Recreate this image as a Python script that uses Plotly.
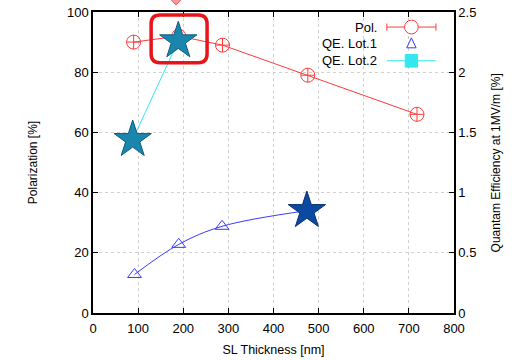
import plotly.graph_objects as go

# ---- data ----
pol_x = [90, 190, 287, 476, 718]
pol_y = [90, 92, 89, 79, 66]

lot1_x = [92, 190, 286, 474]
lot1_qe = [0.32, 0.57, 0.72, 0.85]

lot2_x = [88, 189]
lot2_qe = [1.44, 2.26]

x_ticks = [0, 100, 200, 300, 400, 500, 600, 700, 800]
y_ticks = [0, 20, 40, 60, 80, 100]
y2_ticks = [0, 0.5, 1, 1.5, 2, 2.5]
y2_labels = ["0", "0.5", "1", "1.5", "2", "2.5"]

FONT = "Liberation Sans, Arial, sans-serif"
RED = "#ff3b3b"
BLUE = "#3a3aff"
CYAN = "#33e6f0"

fig = go.Figure()

# Polarization
fig.add_trace(go.Scatter(
    x=pol_x, y=pol_y, mode="lines+markers", name="Pol.",
    line=dict(color=RED, width=1),
    marker=dict(symbol="circle-cross-open", size=14, color=RED, line=dict(width=1)),
    showlegend=False,
))

# QE Lot.1 (smooth curve through triangles, last point as star)
fig.add_trace(go.Scatter(
    x=lot1_x, y=lot1_qe, yaxis="y2", mode="lines", line=dict(color=BLUE, width=1, shape="spline"),
    showlegend=False,
))
fig.add_trace(go.Scatter(
    x=lot1_x[:-1], y=lot1_qe[:-1], yaxis="y2", mode="markers",
    marker=dict(symbol="triangle-up-open", size=12, color=BLUE, line=dict(width=1)),
    showlegend=False,
))
fig.add_trace(go.Scatter(
    x=lot1_x[-1:], y=lot1_qe[-1:], yaxis="y2", mode="markers",
    marker=dict(symbol="star", size=28, color="#0b4aa0", line=dict(color="#0a2f70", width=1)),
    showlegend=False,
))

# QE Lot.2
fig.add_trace(go.Scatter(
    x=lot2_x, y=lot2_qe, yaxis="y2", mode="lines", line=dict(color=CYAN, width=1),
    showlegend=False,
))
fig.add_trace(go.Scatter(
    x=lot2_x, y=lot2_qe, yaxis="y2", mode="markers",
    marker=dict(symbol="star", size=28, color="#1b86ad", line=dict(color="#0e5c7a", width=1)),
    showlegend=False,
))

# ---- highlight box (paper coords) ----
x0, x1, y0, y1 = 0.161, 0.316, 0.831, 0.990
rx, ry = 0.024, 0.03
path = (f"M {x0+rx},{y1} L {x1-rx},{y1} Q {x1},{y1} {x1},{y1-ry} "
        f"L {x1},{y0+ry} Q {x1},{y0} {x1-rx},{y0} L {x0+rx},{y0} "
        f"Q {x0},{y0} {x0},{y0+ry} L {x0},{y1-ry} Q {x0},{y1} {x0+rx},{y1} Z")
shapes = [
    dict(type="path", xref="paper", yref="paper", path=path,
         line=dict(color="#e8141b", width=3.5), layer="above"),
    dict(type="path", xref="paper", yref="paper",
         path="M 0.211,1.047 L 0.230,1.023 L 0.249,1.047 L 0.230,1.070 Z",
         fillcolor="#f49a9a", line=dict(color="#e06060", width=1), layer="above"),
]

# ---- custom legend (text left, sample right) ----
leg_rows = [("Pol.", 0.950), ("QE. Lot.1", 0.895), ("QE. Lot.2", 0.838)]
annotations = []
for txt, yy in leg_rows:
    annotations.append(dict(x=0.792, y=yy, xref="paper", yref="paper", text=txt,
                            showarrow=False, xanchor="right", yanchor="middle",
                            font=dict(family=FONT, size=13, color="black")))
lx0, lx1, lxc = 0.814, 0.950, 0.882
shapes += [
    dict(type="line", xref="paper", yref="paper", x0=lx0, x1=lx1, y0=0.950, y1=0.950, line=dict(color=RED, width=1)),
    dict(type="line", xref="paper", yref="paper", x0=lx0, x1=lx0, y0=0.938, y1=0.962, line=dict(color=RED, width=1)),
    dict(type="line", xref="paper", yref="paper", x0=lx1, x1=lx1, y0=0.938, y1=0.962, line=dict(color=RED, width=1)),
    dict(type="circle", xref="paper", yref="paper", x0=lxc-0.019, x1=lxc+0.019, y0=0.950-0.023, y1=0.950+0.023,
         line=dict(color=RED, width=1), fillcolor="white"),
    dict(type="path", xref="paper", yref="paper",
         path=f"M {lxc-0.013},{0.895-0.014} L {lxc+0.013},{0.895-0.014} L {lxc},{0.895+0.019} Z",
         line=dict(color=BLUE, width=1)),
    dict(type="line", xref="paper", yref="paper", x0=lx0, x1=lx1, y0=0.838, y1=0.838, line=dict(color=CYAN, width=1)),
    dict(type="rect", xref="paper", yref="paper", x0=lxc-0.017, x1=lxc+0.017, y0=0.838-0.021, y1=0.838+0.021,
         line=dict(color=CYAN, width=1), fillcolor=CYAN),
]

annotations.append(dict(x=1.141, y=0.5, xref="paper", yref="paper",
                        text="Quantam Efficiency at 1MV/m [%]", textangle=-90, showarrow=False,
                        font=dict(family=FONT, size=12, color="black")))

axis_common = dict(
    showline=True, linecolor="black", linewidth=1.5, mirror=False,
    ticks="inside", ticklen=5, tickcolor="black", automargin=False,
    showgrid=True, gridcolor="#d0d0d0", griddash="dot", gridwidth=1,
    zeroline=False, tickfont=dict(family=FONT, size=13, color="black"),
)

fig.update_layout(
    width=521, height=360,
    margin=dict(l=93, r=67, t=12, b=47, autoexpand=False),
    plot_bgcolor="white", paper_bgcolor="white",
    font=dict(family=FONT, size=12, color="black"),
    showlegend=False,
    xaxis=dict(axis_common, range=[0, 800], tickvals=x_ticks, mirror="ticks", ticklabelstandoff=3,
               title=dict(text="SL Thickness [nm]", font=dict(family=FONT, size=12.5), standoff=10)),
    yaxis=dict(axis_common, range=[0, 100], tickvals=y_ticks,
               title=dict(text="Polarization [%]", font=dict(family=FONT, size=12), standoff=27)),
    yaxis2=dict(axis_common, range=[0, 2.5], tickvals=y2_ticks, ticktext=y2_labels,
                overlaying="y", side="right", showgrid=False),
    shapes=shapes,
    annotations=annotations,
)

# remove the page's default body margin so the figure sits at the window origin
fig.write_html("out.html", config={"displayModeBar": False},
               post_script="document.body.style.margin='0';")
